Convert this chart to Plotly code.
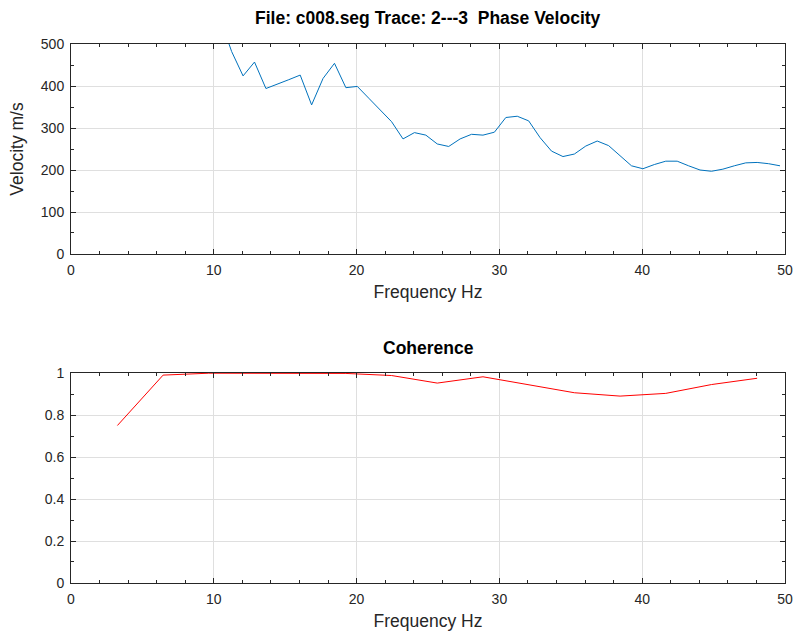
import plotly.graph_objects as go
from plotly.subplots import make_subplots

# Phase velocity picks (Hz, m/s)
vel_freq = [10.45, 11.25, 12.05, 12.85, 13.65, 14.45, 15.25, 16.05, 16.85, 17.65,
            18.45, 19.25, 20.05, 20.85, 21.65, 22.45, 23.25, 24.05, 24.85, 25.65,
            26.45, 27.25, 28.05, 28.85, 29.65, 30.45, 31.25, 32.05, 32.85, 33.65,
            34.45, 35.25, 36.05, 36.85, 37.65, 38.45, 39.25, 40.05, 40.85, 41.65,
            42.45, 43.25, 44.05, 44.85, 45.65, 46.45, 47.25, 48.05, 48.85, 49.65]
velocity = [560, 482, 424, 457, 394, 404, 415, 426, 355, 418,
            454, 396, 399, 371, 343, 315, 274, 289, 283, 262,
            256, 274, 285, 283, 290, 325, 328, 317, 277, 245,
            232, 238, 257, 269, 258, 233, 210, 203, 213, 221,
            221, 210, 200, 197, 202, 210, 217, 218, 215, 210]

# Coherence between traces 2 and 3
coh_freq = [3.25, 6.45, 9.65, 12.85, 16.05, 19.25, 22.45, 25.65, 28.85, 32.05,
            35.25, 38.45, 41.65, 44.85, 48.05]
coherence = [0.75, 0.99, 0.999, 0.999, 0.998, 0.998, 0.988, 0.952, 0.982, 0.944,
             0.906, 0.890, 0.903, 0.945, 0.975]

FONT = "Liberation Sans, Arial, sans-serif"
INK = "#262626"

fig = make_subplots(rows=2, cols=1, vertical_spacing=0.2208)

fig.add_trace(go.Scatter(x=vel_freq, y=velocity, mode="lines",
                         line=dict(color="#0072BD", width=1), showlegend=False),
              row=1, col=1)
fig.add_trace(go.Scatter(x=coh_freq, y=coherence, mode="lines",
                         line=dict(color="#FF0000", width=1), showlegend=False),
              row=2, col=1)

axis_common = dict(
    showline=True, linecolor=INK, linewidth=1, mirror="ticks",
    ticks="inside", ticklen=5, tickcolor=INK, tickwidth=1,
    showgrid=True, gridcolor="#DFDFDF", gridwidth=1,
    zeroline=False, automargin=False, ticklabelstandoff=3,
    tickfont=dict(family=FONT, size=14, color=INK),
    title_font=dict(family=FONT, size=17.5, color=INK),
)

for r in (1, 2):
    fig.update_xaxes(range=[0, 50], tickvals=[0, 10, 20, 30, 40, 50],
                     minor=dict(dtick=2, ticks="inside", ticklen=3, tickcolor=INK, showgrid=False),
                     title_text="Frequency Hz", title_standoff=8,
                     row=r, col=1, **axis_common)

fig.update_yaxes(range=[0, 500], tickvals=[0, 100, 200, 300, 400, 500],
                 minor=dict(dtick=50, ticks="inside", ticklen=3, tickcolor=INK, showgrid=False),
                 title_text="Velocity m/s", title_standoff=12,
                 row=1, col=1, **axis_common)
fig.update_yaxes(range=[0, 1], tickvals=[0, 0.2, 0.4, 0.6, 0.8, 1],
                 ticktext=["0", "0.2", "0.4", "0.6", "0.8", "1"],
                 minor=dict(dtick=0.1, ticks="inside", ticklen=3, tickcolor=INK, showgrid=False),
                 row=2, col=1, **axis_common)

fig.update_layout(
    width=799, height=633,
    margin=dict(l=71, r=14, t=44, b=50),
    paper_bgcolor="white", plot_bgcolor="white",
    font=dict(family=FONT, color=INK),
    annotations=[
        dict(text="<b>File: c008.seg Trace: 2---3  Phase Velocity</b>",
             xref="paper", yref="paper", x=0.5, y=1.0, yshift=14,
             xanchor="center", yanchor="bottom", showarrow=False,
             font=dict(family=FONT, size=17.5, color="black")),
        dict(text="<b>Coherence</b>",
             xref="paper", yref="paper", x=0.5, y=0.3896, yshift=13,
             xanchor="center", yanchor="bottom", showarrow=False,
             font=dict(family=FONT, size=17.5, color="black")),
    ],
)

fig.write_html("out.html")
